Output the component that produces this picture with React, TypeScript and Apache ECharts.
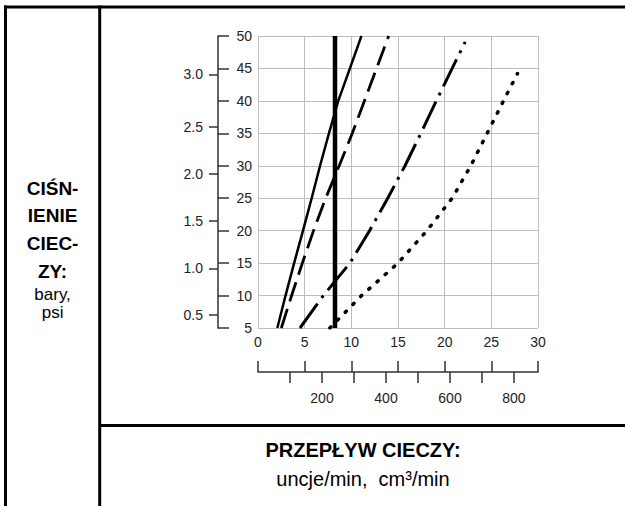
import React, { useEffect, useRef } from "react";
import * as echarts from "echarts";

// ---- data ----
// flow axis (oz/min) and pressure axis (psi)
const flowMin = 0;
const flowMax = 30;
const flowStep = 5;
const psiMin = 5;
const psiMax = 50;
const psiStep = 5;

// secondary pressure scale: bar labels and their position on the psi scale
const barTickLabels = ["0.5", "1.0", "1.5", "2.0", "2.5", "3.0"];
const barTickPsi = [7.05, 14.2, 21.5, 28.7, 36.0, 44.1];

// secondary flow scale: cm³/min
const cm3PerOz = 29.17;
const cm3Ticks = [100, 200, 300, 400, 500, 600, 700, 800];
const cm3Labels = [200, 400, 600, 800];

// curves: [flow oz/min, pressure psi]
const solidCurve = [
  [2.07, 5], [2.95, 10], [3.87, 15], [4.82, 20], [5.75, 25],
  [6.65, 30], [7.6, 35], [8.6, 40], [9.85, 45], [11.08, 50],
];
const dashedCurve = [
  [2.5, 5], [3.6, 10], [4.75, 15], [5.95, 20], [7.25, 25],
  [8.7, 30], [10.1, 35], [11.4, 40], [12.7, 45], [14.0, 50],
];
const dashDotCurve = [
  [4.5, 5], [7.0, 10], [9.85, 15], [11.95, 20], [13.9, 25],
  [15.75, 30], [17.45, 35], [19.1, 40], [20.8, 45], [22.2, 49.1],
];
const dottedCurve = [
  [7.7, 5], [11.1, 10], [15.0, 15], [18.1, 20], [20.8, 25],
  [22.8, 30], [24.55, 35], [26.3, 40], [27.8, 44.2],
];
const markerFlow = [[8.25, 5], [8.25, 50]];

// ---- texts ----
const pressureTitle = ["CIŚN-", "IENIE", "CIEC-", "ZY:"];
const pressureUnits = ["bary,", "psi"];
const flowTitle = "PRZEPŁYW CIECZY:";
const flowUnits = "uncje/min,  cm³/min";

const FONT = '"Liberation Sans", Arial, Helvetica, sans-serif';

export default function App() {
  const ref = useRef<HTMLDivElement>(null);

  useEffect(() => {
    if (!ref.current) return;
    const chart = echarts.init(ref.current, undefined, { renderer: "svg" });

    const tickLabel = { fontSize: 14, color: "#222", fontFamily: FONT };
    const axisLineStyle = { color: "#333", width: 1.5 };
    const gridLine = { color: "#bdbdbd", width: 1 };

    const frame = { stroke: "#000", lineWidth: 3 };
    const graphics: any[] = [
      { type: "line", shape: { x1: 4, y1: 7, x2: 625, y2: 7 }, style: frame },
      { type: "line", shape: { x1: 5.5, y1: 5.5, x2: 5.5, y2: 506 }, style: frame },
      { type: "line", shape: { x1: 99.7, y1: 5.5, x2: 99.7, y2: 506 }, style: frame },
      { type: "line", shape: { x1: 99.7, y1: 425.5, x2: 625, y2: 425.5 }, style: frame },
    ];
    pressureTitle.forEach((t, i) => {
      graphics.push({
        type: "text",
        style: {
          text: t, x: 52.6, y: 188 + i * 27.7,
          font: `bold 19px ${FONT}`, fill: "#000",
          textAlign: "center", textVerticalAlign: "middle",
        },
      });
    });
    pressureUnits.forEach((t, i) => {
      graphics.push({
        type: "text",
        style: {
          text: t, x: 52.6, y: 294 + i * 18,
          font: `17px ${FONT}`, fill: "#000",
          textAlign: "center", textVerticalAlign: "middle",
        },
      });
    });
    graphics.push({
      type: "text",
      style: {
        text: flowTitle, x: 363, y: 450,
        font: `bold 20px ${FONT}`, fill: "#000",
        textAlign: "center", textVerticalAlign: "middle",
      },
    });
    graphics.push({
      type: "text",
      style: {
        text: flowUnits, x: 363, y: 479,
        font: `20px ${FONT}`, fill: "#000",
        textAlign: "center", textVerticalAlign: "middle",
      },
    });

    const curve = (data: number[][], lineStyle: any) => ({
      type: "line",
      xAxisIndex: 0,
      yAxisIndex: 0,
      data,
      symbol: "none",
      showSymbol: false,
      silent: true,
      lineStyle: { color: "#000", ...lineStyle },
    });

    const sideGrid = { left: 218, top: 36, width: 1, height: 292, containLabel: false, outerBoundsMode: "none" };
    const hiddenX = (gridIndex: number) => ({
      type: "value", gridIndex, min: 0, max: 1, show: false,
      axisLine: { show: false }, axisTick: { show: false }, axisLabel: { show: false }, splitLine: { show: false },
    });

    chart.setOption({
      animation: false,
      backgroundColor: "#fff",
      textStyle: { fontFamily: FONT },
      grid: [
        { left: 258, top: 36, width: 280, height: 292, containLabel: false, outerBoundsMode: "none" },
        sideGrid,
        sideGrid,
      ],
      xAxis: [
        {
          type: "value", gridIndex: 0, min: flowMin, max: flowMax, interval: flowStep,
          position: "bottom",
          axisLine: { show: false }, axisTick: { show: false },
          axisLabel: { ...tickLabel, margin: 7 },
          splitLine: { show: true, lineStyle: gridLine },
        },
        {
          type: "value", gridIndex: 0, min: flowMin, max: flowMax, interval: flowStep,
          position: "bottom", offset: 44,
          axisLine: { show: true, lineStyle: axisLineStyle },
          axisTick: { show: true, inside: true, length: 11, lineStyle: axisLineStyle },
          axisLabel: { show: false },
          splitLine: { show: false },
        },
        {
          type: "value", gridIndex: 0, min: flowMin * cm3PerOz, max: flowMax * cm3PerOz,
          position: "bottom", offset: 44,
          axisLine: { show: false },
          axisTick: { show: true, inside: false, length: 11, customValues: cm3Ticks, lineStyle: axisLineStyle },
          axisLabel: { ...tickLabel, margin: 19, customValues: cm3Labels },
          splitLine: { show: false },
        },
        hiddenX(1),
        hiddenX(2),
      ],
      yAxis: [
        {
          type: "value", gridIndex: 0, min: psiMin, max: psiMax, interval: psiStep,
          position: "left",
          axisLine: { show: false }, axisTick: { show: false },
          axisLabel: { ...tickLabel, margin: 6 },
          splitLine: { show: true, lineStyle: gridLine },
        },
        {
          type: "value", gridIndex: 1, min: psiMin, max: psiMax, interval: psiStep,
          position: "left",
          axisLine: { show: true, lineStyle: axisLineStyle },
          axisTick: { show: true, inside: true, length: 11, lineStyle: axisLineStyle },
          axisLabel: { show: false },
          splitLine: { show: false },
        },
        {
          type: "value", gridIndex: 2, min: psiMin, max: psiMax,
          position: "left",
          axisLine: { show: false },
          axisTick: { show: true, inside: false, length: 9, customValues: barTickPsi, lineStyle: axisLineStyle },
          axisLabel: {
            ...tickLabel, margin: 15, customValues: barTickPsi,
            formatter: (v: number) => {
              let best = 0;
              barTickPsi.forEach((p, i) => {
                if (Math.abs(p - v) < Math.abs(barTickPsi[best] - v)) best = i;
              });
              return barTickLabels[best];
            },
          },
          splitLine: { show: false },
        },
      ],
      series: [
        curve(solidCurve, { width: 2.5 }),
        curve(dashedCurve, { width: 2.8, type: [20, 8] }),
        curve(dashDotCurve, { width: 3, type: [30, 7, 3, 7] }),
        curve(dottedCurve, { width: 3.5, type: [1.5, 9.5], cap: "round" }),
        curve(markerFlow, { width: 4.5 }),
      ],
      graphic: graphics,
    });

    return () => chart.dispose();
  }, []);

  return (
    <div
      ref={ref}
      style={{ position: "fixed", left: 0, top: 0, width: 625, height: 506, background: "#fff" }}
    />
  );
}
